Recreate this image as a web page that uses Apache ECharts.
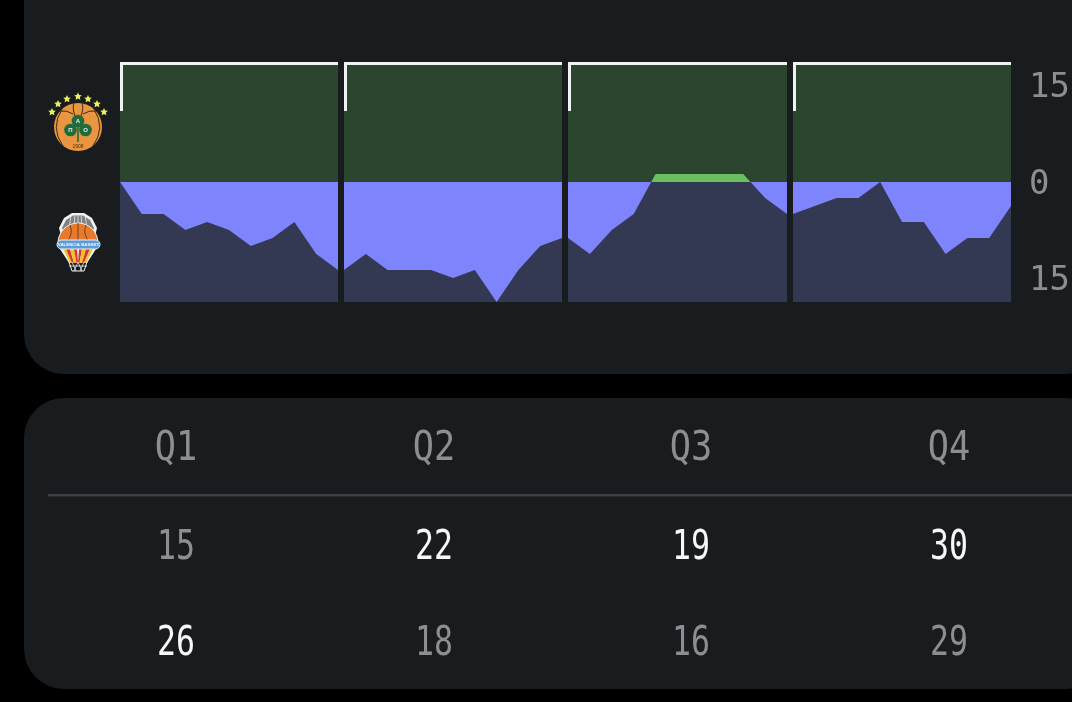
<!DOCTYPE html>
<html>
<head>
<meta charset="utf-8">
<style>html,body{margin:0;padding:0;background:#000}#c{width:1072px;height:702px}</style>
<script src="https://cdn.jsdelivr.net/npm/echarts@6/dist/echarts.min.js"></script>
</head>
<body>
<div id="c"></div>
<script>
// Data: point difference through each quarter
const steps = ['0','1','2','3','4','5','6','7','8','9','10'];
const q1Diff = [0,-4,-4,-6,-5,-6,-8,-7,-5,-9,-11];
const q2Diff = [-11,-9,-11,-11,-11,-12,-11,-15,-11,-8,-7];
const q3Diff = [-7,-9,-6,-4,1,1,1,1,1,-2,-4];
const q4Diff = [-4,-3,-2,-2,0,-5,-5,-9,-7,-7,-3];
const quarterLabels = ['Q1','Q2','Q3','Q4'];
const homeScores = ['15','22','19','30'];
const awayScores = ['26','18','16','29'];
const homeWins = [false,true,true,true];
const awayWins = [true,false,false,false];

const quarters = [q1Diff,q2Diff,q3Diff,q4Diff];
const lefts = [120,344,568,793];
const rights = [338,562,787,1011];
const colX = [176,434,691,949];
const C = {card:'#191C1F',up:'#2C452F',upFill:'#6ABF60',down:'#7E84FB',downFill:'#333853',frame:'#F1F3F2',grey:'#8C8F92',white:'#F5F7F9'};
const axisFont = {color:C.grey,fontFamily:'DejaVu Sans Mono',fontSize:34};

const grids=[],xAxes=[],yAxes=[],series=[];
quarters.forEach((vals,i)=>{
  [0,1].forEach(part=>{
    const idx=grids.length, isUp=part===0;
    grids.push({show:true,borderWidth:0,outerBoundsMode:'none',backgroundColor:isUp?C.up:C.down,
      left:lefts[i],width:rights[i]-lefts[i],top:isUp?62:182,height:120});
    xAxes.push({type:'category',gridIndex:idx,data:steps,boundaryGap:false,show:false});
    const last=i===3;
    yAxes.push({type:'value',gridIndex:idx,min:isUp?0:-15,max:isUp?15:0,interval:15,position:'right',
      show:last,axisLine:{show:false},axisTick:{show:false},splitLine:{show:false},
      axisLabel:Object.assign({show:last,margin:18,showMinLabel:true,showMaxLabel:true,
        formatter:v=>v===15?'{t|15}':v===-15?'{b|15}':(isUp?'{z|0}':''),
        rich:{
          t:Object.assign({padding:[53,0,0,0]},axisFont),
          b:Object.assign({padding:[0,0,42,0]},axisFont),
          z:Object.assign({padding:[6,0,0,0]},axisFont)
        }},axisFont)});
    series.push({type:'line',xAxisIndex:idx,yAxisIndex:idx,data:vals,symbol:'none',silent:true,
      clip:true,animation:false,lineStyle:{width:0},
      areaStyle:{origin:'start',color:isUp?C.upFill:C.downFill,opacity:1}});
  });
});

const g=[];
function card(y,h){g.push({type:'rect',z:-10,shape:{x:24,y:y,width:1082,height:h,r:40},style:{fill:C.card}});}
card(-60,434);card(398,291);
lefts.forEach((l,i)=>{
  g.push({type:'polyline',z:50,shape:{points:[[l+1.5,111],[l+1.5,63.5],[rights[i],63.5]]},
    style:{stroke:C.frame,lineWidth:3,fill:null}});
});
function txt(x,y,text,fill){
  g.push({type:'text',z:50,x:x,y:y,scaleX:text[0]==='Q'?0.86:0.77,style:{text:text,fill:fill,
    font:'41px "DejaVu Sans Mono"',textAlign:'center',textVerticalAlign:'middle'}});
}
quarterLabels.forEach((t,i)=>txt(colX[i],449,t,C.grey));
homeScores.forEach((t,i)=>txt(colX[i],548,t,homeWins[i]?C.white:C.grey));
awayScores.forEach((t,i)=>txt(colX[i],644,t,awayWins[i]?C.white:C.grey));
g.push({type:'rect',z:50,shape:{x:48,y:494,width:1024,height:2.5},style:{fill:'#3C3F43'}});

// Crest of the upper team
function star(cx,cy,r){const p=[];for(let k=0;k<10;k++){const a=-Math.PI/2+k*Math.PI/5,q=k%2?r*0.5:r;p.push([cx+q*Math.cos(a),cy+q*Math.sin(a)]);}
  g.push({type:'polygon',z:50,shape:{points:p},style:{fill:'#EDEE5E'}});}
[[52,112],[58,104],[67,99],[78,96.5],[88,99],[97,104],[104,112]].forEach(s=>star(s[0],s[1],4));
g.push({type:'circle',z:50,shape:{cx:78,cy:127,r:24},style:{fill:'#E8963F'}});
function curve(x1,y1,cx,cy,x2,y2,col,w,z){g.push({type:'bezierCurve',z:z||51,shape:{x1,y1,x2,y2,cpx1:cx,cpy1:cy},style:{stroke:col,lineWidth:w,fill:null}});}
curve(62,109,50,128,63,146,'#3B2A18',1);
curve(94,109,106,128,93,146,'#3B2A18',1);
curve(74,103,72,108,75,116,'#3B2A18',1);
curve(82,103,84,108,81,116,'#3B2A18',1);
curve(60,111,67,110,73,114,'#3B2A18',1);
curve(96,111,89,110,83,114,'#3B2A18',1);
[[78,121,6.3],[70.5,130,6.3],[85.5,130,6.3]].forEach(c=>g.push({type:'circle',z:52,shape:{cx:c[0],cy:c[1],r:c[2]},style:{fill:'#1F6B3C'}}));
g.push({type:'rect',z:52,shape:{x:77.2,y:124,width:1.6,height:18},style:{fill:'#1F6B3C'}});
[['Α',78,121],['Π',70.5,130],['Ο',85.5,130]].forEach(t=>g.push({type:'text',z:53,x:t[1],y:t[2],style:{text:t[0],fill:'#E9EFE6',font:'bold 6px "Liberation Sans"',textAlign:'center',textVerticalAlign:'middle'}}));
g.push({type:'text',z:53,x:78,y:147,style:{text:'1908',fill:'#4A2F12',font:'5px "Liberation Sans"',textAlign:'center',textVerticalAlign:'middle'}});

// Crest of the lower team
g.push({type:'polygon',z:50,shape:{smooth:0,points:[[62,240],[59,228],[64,218],[72,213],[84,213],[92,218],[97,228],[94,240]]},style:{fill:'#F2F2F2'}});
g.push({type:'polygon',z:50,shape:{points:[[65,236],[62,228],[66,220],[73,215.5],[83,215.5],[90,220],[94,228],[91,236]]},style:{fill:'#7E8287'}});
[69,74,78,82,87].forEach(x=>g.push({type:'line',z:51,shape:{x1:78+(x-78)*0.8,y1:216,x2:x,y2:229},style:{stroke:'#E8E8E8',lineWidth:0.8}}));
g.push({type:'sector',z:51,shape:{cx:78,cy:243,r0:0,r:20,startAngle:Math.PI,endAngle:2*Math.PI},style:{fill:'#E87A2E',stroke:'#F2F2F2',lineWidth:1}});
curve(70,225,74,234,66,243,'#5B3113',0.8,52);
curve(86,225,82,234,90,243,'#5B3113',0.8,52);
g.push({type:'line',z:52,shape:{x1:78,y1:223,x2:78,y2:243},style:{stroke:'#5B3113',lineWidth:0.8}});
g.push({type:'polygon',z:50,shape:{points:[[60,249],[96,249],[87,263],[69,263]]},style:{fill:'#F2F2F2'}});
[[63,66,70,72,'#F2C230'],[66,70,72,74,'#D8382B'],[70,74,74,76.5,'#F2C230'],[74,77,76.5,78,'#D8382B'],[79,82,78,79.5,'#D8382B'],[82,86,79.5,82,'#F2C230'],[86,90,82,84,'#D8382B'],[90,93,84,86,'#F2C230']].forEach(s=>
  g.push({type:'polygon',z:51,shape:{points:[[s[0],249],[s[1],249],[s[3],263],[s[2],263]]},style:{fill:s[4]}})
);
g.push({type:'rect',z:52,shape:{x:57,y:240,width:43,height:9,r:4.5},style:{fill:'#5E9BD6',stroke:'#E6EEF6',lineWidth:1}});
g.push({type:'text',z:53,x:78.5,y:244.7,style:{text:'VALENCIA BASKET',fill:'#F5F7FA',font:'bold 4.4px "Liberation Sans"',textAlign:'center',textVerticalAlign:'middle'}});
g.push({type:'polygon',z:50,shape:{points:[[69,262],[87,262],[84,271],[72,271]]},style:{fill:'#191C1F',stroke:'#F0F0F0',lineWidth:1}});
[[72,262,76,271],[78,262,74,271],[78,262,82,271],[84,262,80,271],[69,266,87,266]].forEach(l=>
  g.push({type:'line',z:51,shape:{x1:l[0],y1:l[1],x2:l[2],y2:l[3]},style:{stroke:'#F0F0F0',lineWidth:0.8}}));

const chart=echarts.init(document.getElementById('c'),null,{renderer:'canvas'});
chart.setOption({backgroundColor:'#000',animation:false,grid:grids,xAxis:xAxes,yAxis:yAxes,series:series,graphic:{elements:g}});
</script>
</body>
</html>
